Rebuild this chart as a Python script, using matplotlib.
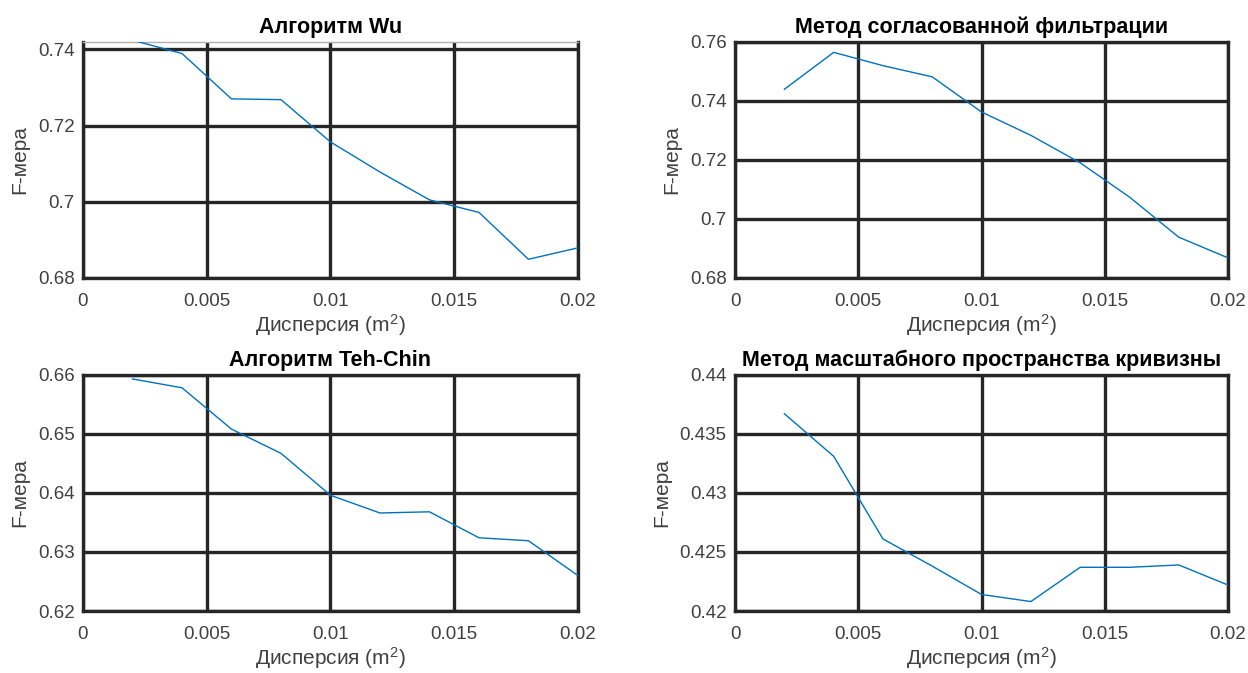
import numpy as np
import matplotlib.pyplot as plt

plt.rcParams['font.family'] = ['Liberation Sans', 'DejaVu Sans']
plt.rcParams['mathtext.default'] = 'regular'

disp = [0.002, 0.004, 0.006, 0.008, 0.010, 0.012, 0.014, 0.016, 0.018, 0.020]
wu = [0.7424, 0.7389, 0.7270, 0.7268, 0.7157, 0.7078, 0.7005, 0.6972, 0.6849, 0.6879]
matched = [0.7439, 0.7564, 0.7519, 0.7481, 0.7362, 0.7283, 0.7190, 0.7074, 0.6938, 0.6868]
tehchin = [0.6593, 0.6578, 0.6508, 0.6467, 0.6396, 0.6366, 0.6368, 0.6324, 0.6319, 0.6260]
css = [0.4367, 0.4331, 0.4261, 0.4238, 0.4214, 0.4208, 0.4237, 0.4237, 0.4239, 0.4222]

titles = ['Алгоритм Wu', 'Метод согласованной фильтрации',
          'Алгоритм Teh-Chin', 'Метод масштабного пространства кривизны']
series = [wu, matched, tehchin, css]
ylims = [(0.68, 0.742), (0.68, 0.76), (0.62, 0.66), (0.42, 0.44)]
yticks = [[0.68, 0.70, 0.72, 0.74], [0.68, 0.70, 0.72, 0.74, 0.76],
          [0.62, 0.63, 0.64, 0.65, 0.66], [0.42, 0.425, 0.43, 0.435, 0.44]]
ylabels = [['0.68', '0.7', '0.72', '0.74'], ['0.68', '0.7', '0.72', '0.74', '0.76'],
           ['0.62', '0.63', '0.64', '0.65', '0.66'], ['0.42', '0.425', '0.43', '0.435', '0.44']]
xticks = [0, 0.005, 0.01, 0.015, 0.02]
xlabels = ['0', '0.005', '0.01', '0.015', '0.02']

fig = plt.figure(figsize=(12.48, 6.73), dpi=100)
rects = [[0.0665, 0.587, 0.3966, 0.351], [0.589, 0.587, 0.395, 0.351],
         [0.0665, 0.0921, 0.3966, 0.351], [0.589, 0.0921, 0.395, 0.351]]
dark = '#262626'
for i in range(4):
    ax = fig.add_axes(rects[i])
    ax.plot(disp, series[i], color='#0072BD', lw=1.0, zorder=3)
    ax.set_xlim(0, 0.02)
    ax.set_ylim(*ylims[i])
    ax.set_xticks(xticks)
    ax.set_xticklabels(xlabels)
    ax.set_yticks(yticks[i])
    ax.set_yticklabels(ylabels[i])
    ax.grid(True, color=dark, lw=2.4, zorder=1)
    ax.tick_params(length=0, labelsize=13.5, colors='#404040')
    ax.tick_params(axis='y', pad=6)
    ax.tick_params(axis='x', pad=11)
    for s in ax.spines.values():
        s.set_color(dark)
        s.set_linewidth(2.4)
    if i == 0:
        ax.spines['top'].set_color('#b0b0b0')
        ax.spines['top'].set_linewidth(1.0)
    ax.set_title(titles[i], fontsize=15.5, fontweight='bold', pad=6)
    ax.set_xlabel('Дисперсия (m$^2$)', fontsize=15, color='#404040', labelpad=1)
    ax.set_ylabel('F-мера', fontsize=15, color='#404040', labelpad=6)

fig.savefig('out.png', dpi=100)
